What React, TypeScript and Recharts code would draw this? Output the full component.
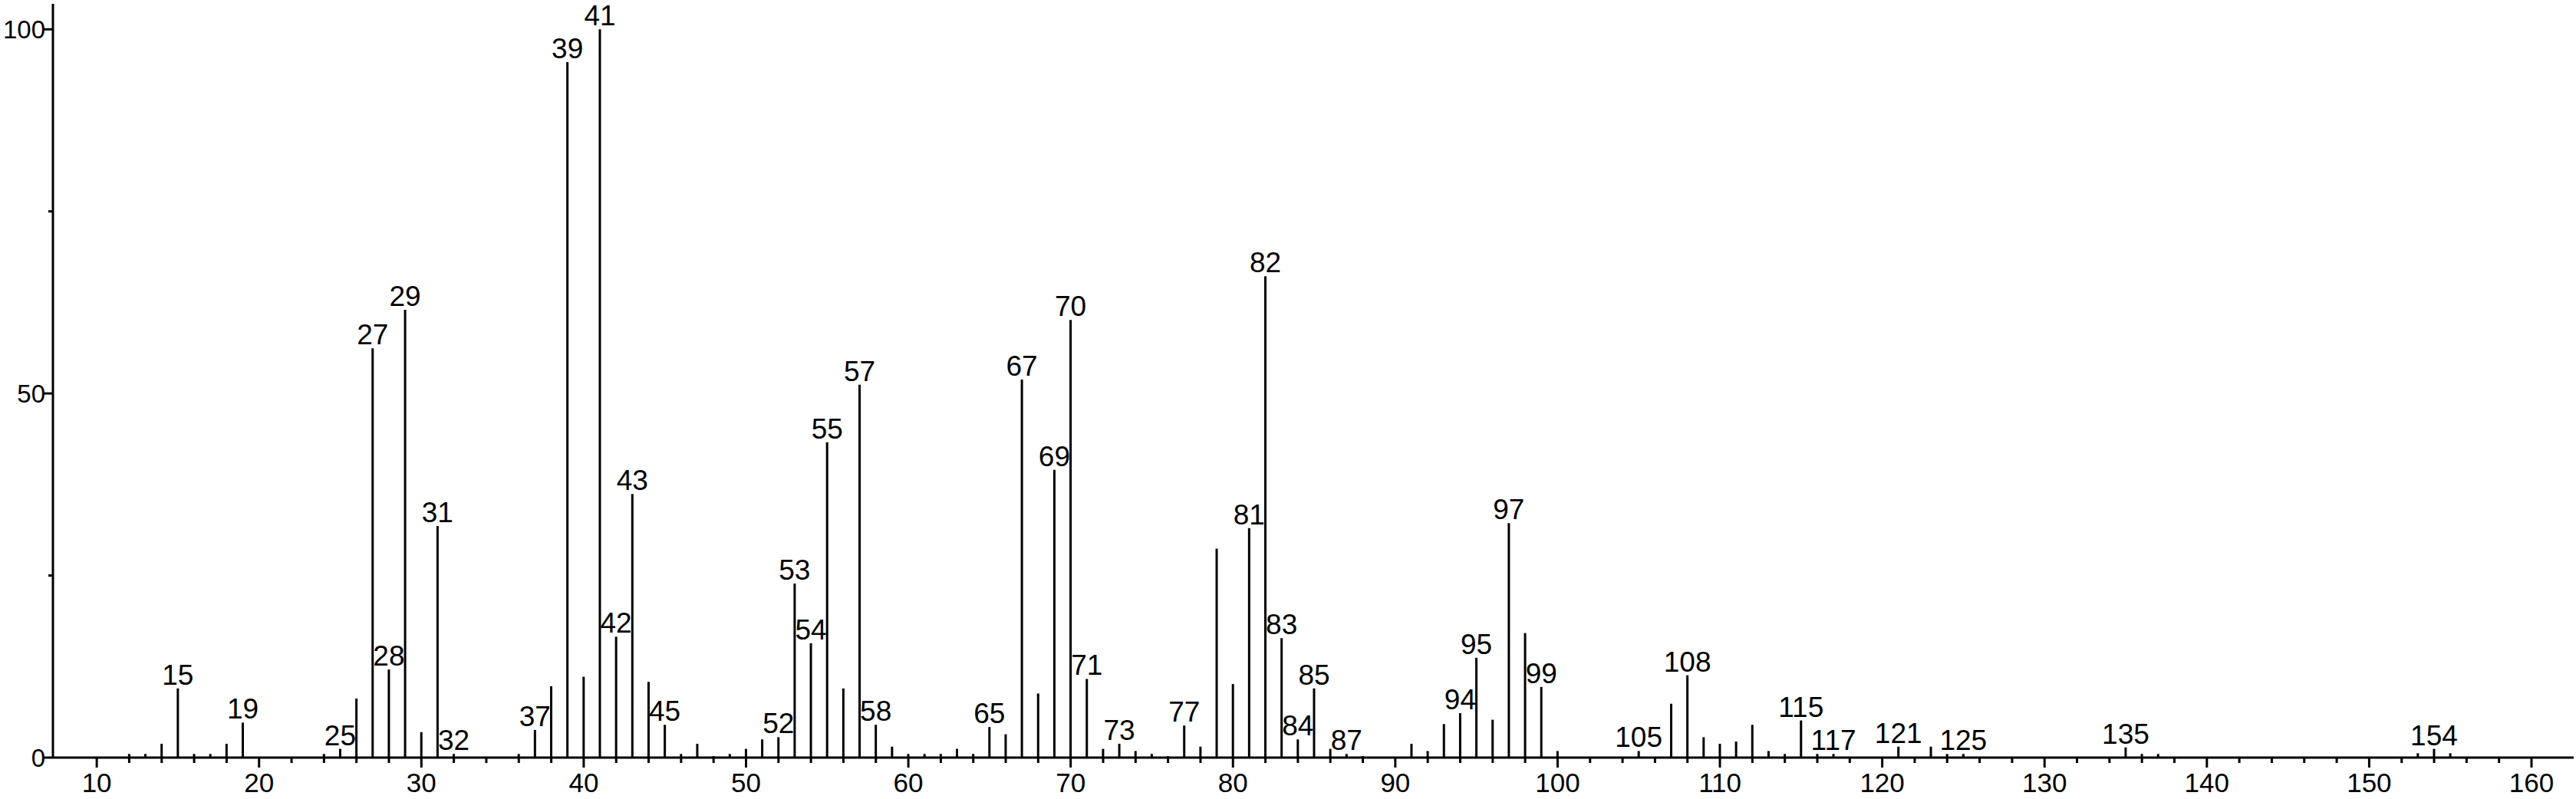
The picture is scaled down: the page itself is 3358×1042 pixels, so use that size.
import { BarChart, Bar, XAxis, YAxis, LabelList } from "recharts";

// m/z of every peak and its relative intensity (%)
const mzValues = [
  12, 13, 14, 15, 16, 17, 18, 19, 24, 25, 26, 27, 28, 29, 30, 31, 32, 36, 37, 38,
  39, 40, 41, 42, 43, 44, 45, 46, 47, 48, 49, 50, 51, 52, 53, 54, 55, 56, 57, 58,
  59, 60, 61, 62, 63, 64, 65, 66, 67, 68, 69, 70, 71, 72, 73, 74, 75, 76, 77, 78,
  79, 80, 81, 82, 83, 84, 85, 86, 87, 88, 91, 92, 93, 94, 95, 96, 97, 98, 99, 100,
  105, 107, 108, 109, 110, 111, 112, 113, 114, 115, 116, 117, 121, 123, 124, 125,
  135, 136, 137, 153, 154, 155,
];

const intensities = [
  0.5, 0.5, 1.9, 9.5, 0.5, 0.5, 1.9, 4.8, 0.5, 1.2, 8.1, 56.2, 12.1, 61.5, 3.5, 31.8, 0.5, 0.5, 3.8, 9.8,
  95.5, 11.1, 100, 16.6, 36.2, 10.4, 4.5, 0.5, 1.9, 0.2, 0.5, 1.2, 2.5, 2.8, 23.9, 15.7, 43.3, 9.5, 51.2, 4.5,
  1.5, 0.5, 0.5, 0.5, 1.2, 0.5, 4.2, 3.2, 51.9, 8.8, 39.5, 60.1, 10.8, 1.2, 1.9, 0.9, 0.5, 0.2, 4.4, 1.5,
  28.7, 10.1, 31.5, 66.1, 16.4, 2.5, 9.5, 1.2, 0.5, 0.2, 1.9, 0.9, 4.6, 6.1, 13.7, 5.2, 32.2, 17.1, 9.7, 0.9,
  0.9, 7.4, 11.3, 2.8, 1.9, 2.2, 4.5, 0.9, 0.5, 5.1, 0.5, 0.5, 1.5, 1.5, 0.5, 0.5,
  1.4, 0.5, 0.5, 0.6, 1.2, 0.6,
];

// peaks that carry their m/z as a label
const labeledPeaks = [
  15, 19, 25, 27, 28, 29, 31, 32, 37, 39, 41, 42, 43, 45, 52, 53, 54, 55, 57, 58,
  65, 67, 69, 70, 71, 73, 77, 81, 82, 83, 84, 85, 87, 94, 95, 97, 99, 105, 108,
  115, 117, 121, 125, 135, 154,
];

const majorXTicks = [10, 20, 30, 40, 50, 60, 70, 80, 90, 100, 110, 120, 130, 140, 150, 160];
const xTicks: number[] = [];
majorXTicks.forEach((t, i) => {
  xTicks.push(t);
  if (i < majorXTicks.length - 1) xTicks.push(t + 2, t + 4, t + 6, t + 8);
});

const yTicks = [0, 25, 50, 75, 100];
const yLabels = [0, 50, 100];

const data = mzValues.map((mz, i) => ({
  mz,
  intensity: intensities[i],
  label: labeledPeaks.includes(mz) ? String(mz) : "",
}));

const FONT = '"Liberation Sans", Arial, Helvetica, sans-serif';

const XTick = (props: any) => {
  const { x, y, payload } = props;
  const major = majorXTicks.includes(payload.value);
  return (
    <g>
      <line x1={x} x2={x} y1={y} y2={y + (major ? 13 : 7)} stroke="#000" strokeWidth={3} />
      {major && (
        <text x={x} y={y + 45} textAnchor="middle" fontSize={35} fontFamily={FONT} fill="#000">
          {payload.value}
        </text>
      )}
    </g>
  );
};

const YTick = (props: any) => {
  const { x, y, payload } = props;
  const major = yLabels.includes(payload.value);
  return (
    <g>
      <line x1={x - (major ? 12 : 6)} x2={x} y1={y} y2={y} stroke="#000" strokeWidth={3} />
      {major && (
        <text x={x - 10} y={y + 12} textAnchor="end" fontSize={33} fontFamily={FONT} fill="#000">
          {payload.value}
        </text>
      )}
    </g>
  );
};

const PeakLabel = (props: any) => {
  const { x, y, width, value } = props;
  if (!value) return null;
  return (
    <text x={x + width / 2} y={y - 5} textAnchor="middle" fontSize={37} fontFamily={FONT} fill="#000">
      {value}
    </text>
  );
};

export default function App() {
  return (
    <div style={{ position: "absolute", left: 0, top: 0, background: "#fff" }}>
      <BarChart
        width={3358}
        height={1042}
        data={data}
        margin={{ top: 5, right: 3, left: 0, bottom: 0 }}
        style={{ fontFamily: FONT }}
      >
        <XAxis
          type="number"
          dataKey="mz"
          domain={[7.3, 162.6]}
          ticks={xTicks}
          interval={0}
          height={54}
          tickSize={0}
          tickMargin={0}
          tickLine={false}
          tick={<XTick />}
          axisLine={{ stroke: "#000", strokeWidth: 3 }}
        />
        <YAxis
          type="number"
          domain={[0, 103.5]}
          ticks={yTicks}
          interval={0}
          width={69}
          tickSize={0}
          tickMargin={0}
          tickLine={false}
          tick={<YTick />}
          axisLine={{ stroke: "#000", strokeWidth: 3 }}
        />
        <Bar dataKey="intensity" fill="#000" barSize={3} isAnimationActive={false}>
          <LabelList dataKey="label" content={<PeakLabel />} />
        </Bar>
      </BarChart>
    </div>
  );
}
